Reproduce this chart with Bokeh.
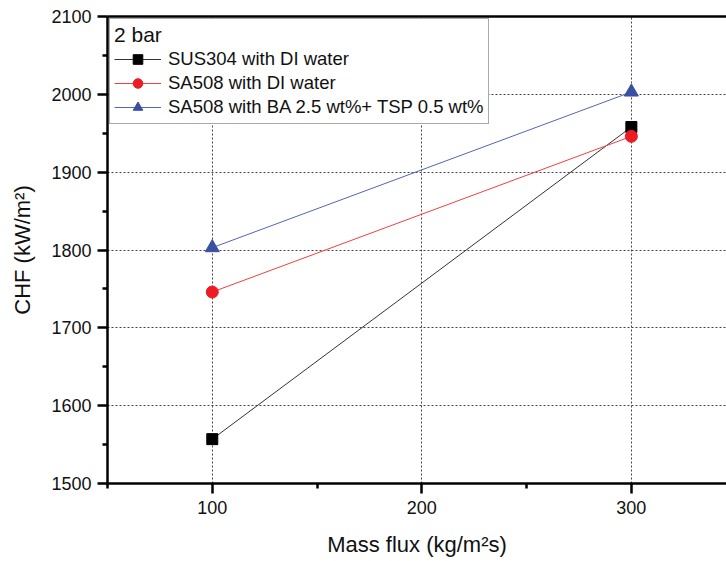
from bokeh.plotting import figure
from bokeh.models import (Range1d, FixedTicker, LinearAxis, Legend, LegendItem)
from bokeh.embed import file_html
from bokeh.resources import INLINE

# ---- data ----
mass_flux = [100, 300]
sus304_di = [1557, 1958]
sa508_di = [1746, 1946]
sa508_ba_tsp = [1803, 2003]

series_labels = ["SUS304 with DI water", "SA508 with DI water",
                 "SA508 with BA 2.5 wt%+ TSP 0.5 wt%"]
legend_title = "2 bar"
x_title = "Mass flux (kg/m\u00b2s)"
y_title = "CHF (kW/m\u00b2)"
x_major = [100, 200, 300]
x_minor = [50, 150, 250, 350]
y_major = [1500, 1600, 1700, 1800, 1900, 2000, 2100]
y_minor = [1550, 1650, 1750, 1850, 1950, 2050]

FONT = "Liberation Sans"

p = figure(width=726, height=561, output_backend="svg", toolbar_location=None,
           x_range=Range1d(50, 345.4), y_range=Range1d(1500, 2100),
           min_border_left=107, min_border_right=0, min_border_top=16,
           min_border_bottom=78, x_axis_location="below")
p.outline_line_color = None
p.background_fill_color = "white"
p.border_fill_color = "white"

# axes
for ax in (p.xaxis[0], p.yaxis[0]):
    ax.axis_line_width = 2.5
    ax.axis_line_color = "black"
    ax.major_tick_line_width = 2.5
    ax.minor_tick_line_width = 2.5
    ax.major_tick_line_color = "black"
    ax.minor_tick_line_color = "black"
    ax.major_tick_in = 0
    ax.minor_tick_in = 0
    ax.major_tick_out = 10
    ax.minor_tick_out = 5
    ax.major_label_text_font = FONT
    ax.major_label_text_font_size = "18px"
    ax.major_label_text_color = "#111111"
    ax.axis_label_text_font = FONT
    ax.axis_label_text_font_size = "22px"
    ax.axis_label_text_font_style = "normal"
    ax.axis_label_text_color = "#111111"

p.xaxis[0].ticker = FixedTicker(ticks=x_major, minor_ticks=x_minor)
p.yaxis[0].ticker = FixedTicker(ticks=y_major, minor_ticks=y_minor)
p.xaxis[0].major_label_standoff = 7
p.yaxis[0].major_label_standoff = 6
p.xaxis[0].axis_label = x_title
p.yaxis[0].axis_label = y_title
p.xaxis[0].axis_label_standoff = 15
p.yaxis[0].axis_label_standoff = 13

# top border line
top = LinearAxis(ticker=FixedTicker(ticks=[]), major_label_text_font_size="0px",
                 axis_line_width=2.5, axis_line_color="black",
                 major_tick_out=0, minor_tick_out=0, major_tick_in=0, minor_tick_in=0)
p.add_layout(top, "above")

# grid
p.xgrid.ticker = FixedTicker(ticks=x_major)
p.ygrid.ticker = FixedTicker(ticks=y_major[1:-1])
for g in (p.xgrid[0], p.ygrid[0]):
    g.grid_line_color = "#444444"
    g.grid_line_dash = "2 2"
    g.grid_line_width = 1

# series
r1l = p.line(mass_flux, sus304_di, line_color="#333333", line_width=1)
r1m = p.scatter(mass_flux, sus304_di, marker="square", size=11,
                fill_color="black", line_color="black")
r2l = p.line(mass_flux, sa508_di, line_color="#f04040", line_width=1)
r2m = p.scatter(mass_flux, sa508_di, marker="circle", size=12,
                fill_color="#ed1c24", line_color="#ed1c24")
r3l = p.line(mass_flux, sa508_ba_tsp, line_color="#5565b0", line_width=1)
r3m = p.scatter(mass_flux, sa508_ba_tsp, marker="triangle", size=14,
                fill_color="#3a4fa3", line_color="#3a4fa3")

legend = Legend(items=[
    LegendItem(label=series_labels[0], renderers=[r1l, r1m]),
    LegendItem(label=series_labels[1], renderers=[r2l, r2m]),
    LegendItem(label=series_labels[2], renderers=[r3l, r3m]),
], location="top_left")
legend.title = legend_title
legend.title_text_font = FONT
legend.title_text_font_size = "21px"
legend.title_text_font_style = "normal"
legend.title_text_color = "#111111"
legend.title_standoff = 0
legend.label_text_font = FONT
legend.label_text_font_size = "18.5px"
legend.label_text_color = "#111111"
legend.label_height = 24
legend.glyph_height = 24
legend.glyph_width = 47
legend.label_standoff = 7
legend.spacing = -1
legend.padding = 4
legend.margin = 2
legend.border_line_color = "#555555"
legend.border_line_width = 1
legend.background_fill_alpha = 1.0
p.add_layout(legend)

open("out.html", "w").write(file_html(p, INLINE))
